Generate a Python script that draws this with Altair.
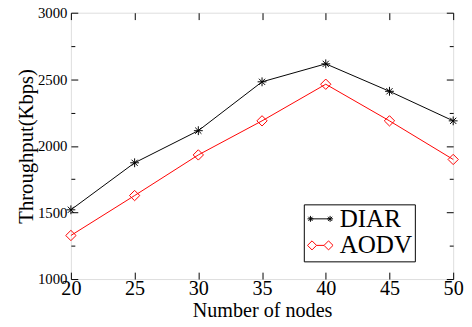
import altair as alt
import pandas as pd

nodes = [20, 25, 30, 35, 40, 45, 50]
diar = [1520, 1873, 2114, 2481, 2616, 2410, 2188]
aodv = [1327, 1627, 1932, 2188, 2463, 2188, 1898]
series_names = ["DIAR", "AODV"]
series_colors = ["#000000", "#ff0000"]
x_ticks = [20, 25, 30, 35, 40, 45, 50]
y_major = [1000, 1500, 2000, 2500, 3000]
y_minor = [1250, 1750, 2250, 2750]

df = pd.DataFrame({
    "nodes": nodes + nodes,
    "throughput": diar + aodv,
    "series": ["DIAR"] * len(nodes) + ["AODV"] * len(nodes),
})

FONT = "Liberation Serif"
W, H = 389, 271

ASTER = "M-1,0L1,0M0,-1L0,1M-0.7,-0.7L0.7,0.7M-0.7,0.7L0.7,-0.7"
LEG_DIAR = ("M-2.5,0L2.5,0"
            "M-3.25,0L-1.75,0M-2.5,-0.75L-2.5,0.75M-3.03,-0.53L-1.97,0.53M-3.03,0.53L-1.97,-0.53"
            "M1.75,0L3.25,0M2.5,-0.75L2.5,0.75M1.97,-0.53L3.03,0.53M1.97,0.53L3.03,-0.53")
LEG_AODV = ("M-3.25,0L-2.1,-1.15L-0.95,0L-2.1,1.15Z"
            "M0.95,0L2.1,-1.15L3.25,0L2.1,1.15Z"
            "M-0.95,0L0.95,0")

xs = alt.Scale(domain=[20, 50], nice=False, zero=False)
ys = alt.Scale(domain=[1000, 3000], nice=False, zero=False)
cs = alt.Scale(domain=series_names, range=series_colors)

base = alt.Chart(df)

leg = alt.Legend(orient="none", legendX=237, legendY=195, title=None,
                 labelFont=FONT, labelFontSize=25.5, labelColor="black",
                 symbolSize=64, symbolStrokeWidth=1, symbolOpacity=1,
                 symbolOffset=2, labelOffset=7, rowPadding=-12,
                 padding=2, strokeColor="black", fillColor="white",
                 cornerRadius=0)


def tick_axis_x(orient, values, size):
    return alt.Axis(orient=orient, offset=-H, values=values, labels=False, domain=False,
                    ticks=True, tickSize=size, tickColor="black", tickWidth=1,
                    grid=False, title=None)


def tick_axis_y(orient, values, size):
    return alt.Axis(orient=orient, offset=-W, values=values, labels=False, domain=False,
                    ticks=True, tickSize=size, tickColor="black", tickWidth=1,
                    grid=False, title=None)


main_x = alt.X("nodes:Q", scale=xs, axis=alt.Axis(
    orient="bottom", values=x_ticks, ticks=False, domain=False, grid=False,
    labelFont=FONT, labelFontSize=20.5, labelColor="black", labelPadding=0,
    labelFlush=False, labelOverlap=False, format="d",
    title="Number of nodes", titleFont=FONT, titleFontSize=20.5,
    titleFontWeight="normal", titleColor="black", titlePadding=2))
main_y = alt.Y("throughput:Q", scale=ys, axis=alt.Axis(
    orient="left", values=y_major, ticks=False, domain=False, grid=False,
    labelFont=FONT, labelFontSize=15, labelColor="black", labelPadding=4,
    labelFlush=False, labelOverlap=False, format="d",
    title="Throughput(Kbps)", titleFont=FONT, titleFontSize=21,
    titleFontWeight="normal", titleColor="black", titlePadding=1))

nx = alt.X("nodes:Q", axis=None)
ny = alt.Y("throughput:Q", axis=None)
color_l = alt.Color("series:N", scale=cs, legend=leg)

lines = base.mark_line(strokeWidth=1).encode(x=main_x, y=main_y, color=color_l)

pts_diar = base.transform_filter(alt.datum.series == "DIAR").mark_point(
    shape=ASTER, size=81, strokeWidth=1, filled=False, opacity=1
).encode(x=nx, y=ny, color=color_l)

pts_aodv = base.transform_filter(alt.datum.series == "AODV").mark_point(
    shape="diamond", size=110, strokeWidth=1, filled=False, opacity=1
).encode(x=nx, y=ny, color=color_l)

legend_layer = base.mark_point(opacity=0, filled=False).encode(
    x=nx, y=ny,
    color=color_l,
    shape=alt.Shape("series:N", scale=alt.Scale(domain=series_names,
                                                 range=[LEG_DIAR, LEG_AODV]), legend=leg),
)

inv = base.mark_point(opacity=0, size=0)
tA = inv.encode(x=alt.X("nodes:Q", axis=tick_axis_x("top", x_ticks, 7)),
                y=alt.Y("throughput:Q", axis=tick_axis_y("right", y_major, 7)))
tB = inv.encode(x=alt.X("nodes:Q", axis=tick_axis_x("bottom", x_ticks, 7)),
                y=alt.Y("throughput:Q", axis=tick_axis_y("left", y_major, 7)))
tC = inv.encode(x=nx,
                y=alt.Y("throughput:Q", axis=tick_axis_y("right", y_minor, 4)))
tD = inv.encode(x=nx,
                y=alt.Y("throughput:Q", axis=tick_axis_y("left", y_minor, 4)))

chart = alt.layer(lines, pts_diar, pts_aodv, legend_layer, tA, tB, tC, tD).resolve_axis(
    x="independent", y="independent"
).properties(
    width=W, height=H,
    autosize=alt.AutoSizeParams(type="none"),
    padding={"left": 64, "top": 2, "right": 11, "bottom": 46},
).configure_view(stroke="black", strokeWidth=1.5).configure(background="white")

chart.save("out.html", embed_options={"renderer": "svg", "actions": False})
